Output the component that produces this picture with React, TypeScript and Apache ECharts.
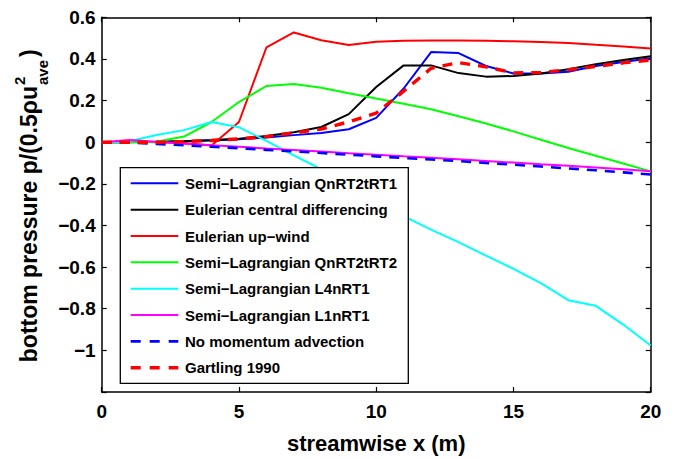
import React, { useEffect, useRef } from "react";
import * as echarts from "echarts";

// streamwise stations (m)
const xs = [0, 1, 2, 3, 4, 5, 6, 7, 8, 9, 10, 11, 12, 13, 14, 15, 16, 17, 18, 19, 20];

const slQnRT2tRT1 = [0, 0.001, 0.002, 0.004, 0.008, 0.014, 0.022, 0.034, 0.044, 0.062, 0.117, 0.258, 0.433, 0.428, 0.366, 0.33, 0.33, 0.338, 0.366, 0.385, 0.403];
const eulerCentral = [0, 0, 0.002, 0.005, 0.01, 0.017, 0.03, 0.048, 0.073, 0.135, 0.265, 0.369, 0.369, 0.332, 0.315, 0.318, 0.33, 0.35, 0.375, 0.395, 0.413];
const eulerUpwind = [0, 0.002, 0, -0.004, -0.016, 0.097, 0.455, 0.527, 0.49, 0.467, 0.483, 0.487, 0.488, 0.488, 0.487, 0.485, 0.481, 0.477, 0.468, 0.46, 0.45];
const slQnRT2tRT2 = [0, 0, 0.002, 0.027, 0.097, 0.193, 0.27, 0.28, 0.262, 0.235, 0.21, 0.185, 0.158, 0.125, 0.09, 0.052, 0.012, -0.028, -0.065, -0.102, -0.14];
const slL4nRT1 = [0, 0.005, 0.035, 0.058, 0.097, 0.072, 0.006, -0.063, -0.13, -0.205, -0.28, -0.355, -0.42, -0.48, -0.545, -0.608, -0.677, -0.759, -0.786, -0.876, -0.977];
const slL1nRT1 = [0, 0.01, 0.002, -0.008, -0.015, -0.022, -0.03, -0.037, -0.045, -0.053, -0.06, -0.068, -0.075, -0.082, -0.09, -0.098, -0.106, -0.113, -0.121, -0.13, -0.14];
const noAdvection = [0, -0.002, -0.008, -0.015, -0.022, -0.029, -0.037, -0.044, -0.052, -0.06, -0.068, -0.076, -0.083, -0.091, -0.1, -0.108, -0.117, -0.126, -0.135, -0.145, -0.155];
const gartling1990 = [0, 0, 0, 0.003, 0.008, 0.016, 0.027, 0.045, 0.063, 0.098, 0.14, 0.245, 0.355, 0.382, 0.362, 0.333, 0.335, 0.348, 0.364, 0.381, 0.395];

const seriesNames = [
  "Semi\u2212Lagrangian QnRT2tRT1",
  "Eulerian central differencing",
  "Eulerian up\u2212wind",
  "Semi\u2212Lagrangian QnRT2tRT2",
  "Semi\u2212Lagrangian L4nRT1",
  "Semi\u2212Lagrangian L1nRT1",
  "No momentum advection",
  "Gartling 1990",
];
const seriesValues = [slQnRT2tRT1, eulerCentral, eulerUpwind, slQnRT2tRT2, slL4nRT1, slL1nRT1, noAdvection, gartling1990];
const seriesColors = ["#0000ff", "#000000", "#ff0000", "#00ff00", "#00ffff", "#ff00ff", "#0000ff", "#ff0000"];
const seriesDashed = [false, false, false, false, false, false, true, true];
const seriesWidths = [2, 2, 2, 2, 2, 2, 2.6, 3.4];

const FONT = "'Liberation Sans', Arial, Helvetica, sans-serif";

const fmtTick = (v: number) => {
  if (Math.abs(v) < 1e-9) return "0";
  const r = Math.round(v * 10) / 10;
  if (r <= -1.19) return "";
  const s = Number.isInteger(r) ? String(Math.abs(r)) : Math.abs(r).toFixed(1);
  return (r < 0 ? "\u2212" : "") + s;
};

export default function App() {
  const ref = useRef<HTMLDivElement>(null);

  useEffect(() => {
    if (!ref.current) return;
    const chart = echarts.init(ref.current, undefined, { renderer: "svg" });

    const gridLeft = 101.7;
    const gridTop = 17.3;
    const gridRight = 24.3;
    const gridBottom = 57.3;

    // legend box
    const lgX = 120.3;
    const lgY = 167.7;
    const lgW = 288;
    const lgH = 215.6;
    const rowY0 = 183.3;
    const rowStep = 26.35;

    const legendEls: any[] = [
      {
        type: "rect",
        shape: { x: lgX, y: lgY, width: lgW, height: lgH },
        style: { fill: "#ffffff", stroke: "#000000", lineWidth: 1.3 },
        z: 100,
      },
    ];
    seriesNames.forEach((name, i) => {
      const y = rowY0 + i * rowStep;
      legendEls.push({
        type: "line",
        shape: { x1: 130.7, y1: y, x2: 178.3, y2: y },
        style: {
          stroke: seriesColors[i],
          lineWidth: seriesWidths[i],
          lineDash: seriesDashed[i] ? [10, 9] : null,
        },
        z: 101,
      });
      legendEls.push({
        type: "text",
        x: 185,
        y: y,
        style: {
          text: name,
          fill: "#000000",
          font: `bold 15px ${FONT}`,
          verticalAlign: "middle",
          align: "left",
        },
        z: 101,
      });
    });

    // rotated y-axis title with super/subscript on u
    const yTitle = {
      type: "group",
      x: 29,
      y: 86,
      rotation: Math.PI / 2,
      children: [
        {
          type: "text",
          x: 0,
          y: 0,
          style: { text: "bottom pressure p/(0.5\u03c1u", font: `bold 23px ${FONT}`, fill: "#000", align: "right", verticalAlign: "middle" },
        },
        {
          type: "text",
          x: 1,
          y: -10,
          style: { text: "2", font: `bold 15px ${FONT}`, fill: "#000", align: "left", verticalAlign: "middle" },
        },
        {
          type: "text",
          x: 1,
          y: 13,
          style: { text: "ave", font: `bold 15px ${FONT}`, fill: "#000", align: "left", verticalAlign: "middle" },
        },
        {
          type: "text",
          x: 29,
          y: 0,
          style: { text: ")", font: `bold 23px ${FONT}`, fill: "#000", align: "left", verticalAlign: "middle" },
        },
      ],
    };

    const axisLine = { show: true, onZero: false, lineStyle: { color: "#000", width: 1.5 } };
    const tickIn = { show: true, inside: true, length: 5, lineStyle: { color: "#000", width: 1.2 } };

    chart.setOption({
      animation: false,
      backgroundColor: "#ffffff",
      grid: { left: gridLeft, top: gridTop, right: gridRight, bottom: gridBottom, containLabel: false },
      xAxis: [
        {
          type: "value",
          min: 0,
          max: 20,
          interval: 5,
          name: "streamwise x (m)",
          nameLocation: "middle",
          nameGap: 40,
          nameTextStyle: { fontFamily: FONT, fontWeight: "bold", fontSize: 22, color: "#000" },
          axisLine,
          axisTick: tickIn,
          splitLine: { show: false },
          axisLabel: { fontFamily: FONT, fontWeight: "bold", fontSize: 19, color: "#000", margin: 10, formatter: fmtTick },
        },
        {
          type: "value",
          position: "top",
          min: 0,
          max: 20,
          interval: 5,
          axisLine,
          axisTick: tickIn,
          splitLine: { show: false },
          axisLabel: { show: false },
        },
      ],
      yAxis: [
        {
          type: "value",
          min: -1.2,
          max: 0.6,
          interval: 0.2,
          axisLine,
          axisTick: tickIn,
          splitLine: { show: false },
          axisLabel: { fontFamily: FONT, fontWeight: "bold", fontSize: 19, color: "#000", margin: 6, formatter: fmtTick },
        },
        {
          type: "value",
          position: "right",
          min: -1.2,
          max: 0.6,
          interval: 0.2,
          axisLine,
          axisTick: tickIn,
          splitLine: { show: false },
          axisLabel: { show: false },
        },
      ],
      series: seriesNames.map((name, i) => ({
        name,
        type: "line",
        xAxisIndex: 0,
        yAxisIndex: 0,
        data: xs.map((x, k) => [x, seriesValues[i][k]]),
        symbol: "none",
        lineStyle: {
          color: seriesColors[i],
          width: seriesWidths[i],
          type: seriesDashed[i] ? [10, 8] : "solid",
        },
        itemStyle: { color: seriesColors[i] },
        clip: true,
        z: 2 + i * 0.01,
      })),
      graphic: [...legendEls, yTitle],
    });

    return () => chart.dispose();
  }, []);

  return (
    <div
      ref={ref}
      style={{ position: "fixed", left: 0, top: 0, width: 675, height: 459, background: "#fff" }}
    />
  );
}
